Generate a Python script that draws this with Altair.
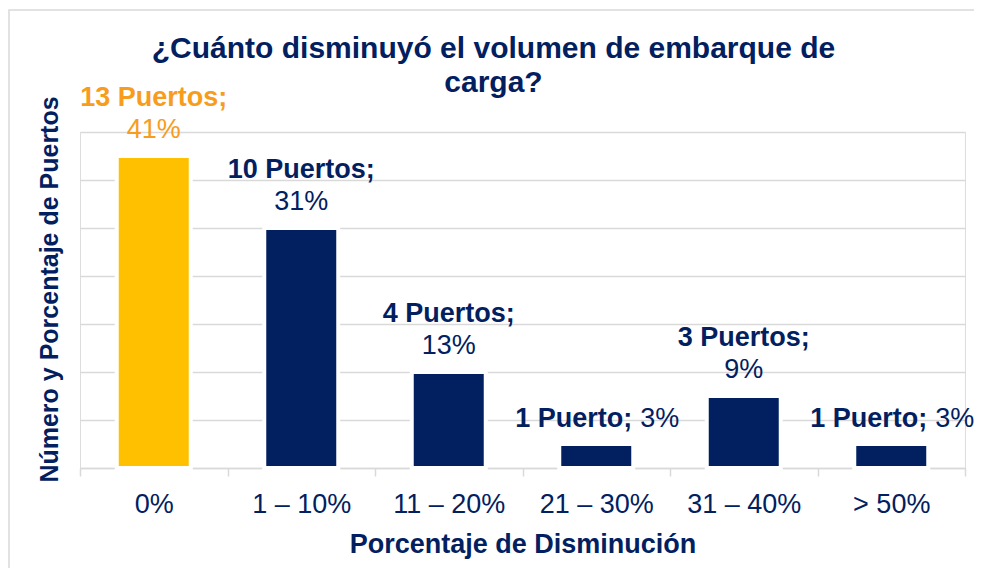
import altair as alt
import pandas as pd

categories = ["0%", "1 – 10%", "11 – 20%", "21 – 30%", "31 – 40%", "> 50%"]
puertos = [13, 10, 4, 1, 3, 1]
porcentajes = [41, 31, 13, 3, 9, 3]
y_ticks = [0, 2, 4, 6, 8, 10, 12, 14]

title_lines = ["¿Cuánto disminuyó el volumen de embarque de", "carga?"]
x_title = "Porcentaje de Disminución"
y_title = "Número y Porcentaje de Puertos"

NAVY = "#022060"
GOLD = "#FFC000"
ORANGE = "#F79C1C"
GRID = "#D9D9D9"
FONT = "Liberation Sans"

df = pd.DataFrame({
    "cat": categories,
    "n": puertos,
    "pct": porcentajes,
})
df["bold"] = [f"{n} Puerto{'s' if n != 1 else ''};" for n in puertos]
df["pct_txt"] = [f"{p}%" for p in porcentajes]

x_enc = alt.X(
    "cat:N",
    sort=categories,
    scale=alt.Scale(paddingInner=0, paddingOuter=0),
    axis=alt.Axis(
        title=x_title,
        labelAngle=0,
        labelFont=FONT,
        labelFontSize=27,
        labelColor=NAVY,
        labelBaseline="alphabetic",
        labelPadding=36,
        tickBand="extent",
        tickSize=8,
        tickColor=GRID,
        tickWidth=1.5,
        domainColor=GRID,
        domainWidth=1.5,
        grid=False,
        titleFont=FONT,
        titleFontSize=27,
        titleFontWeight="bold",
        titleColor=NAVY,
        titleBaseline="alphabetic",
        titleY=84,
    ),
)
y_enc = alt.Y(
    "n:Q",
    scale=alt.Scale(domain=[0, 14], nice=False),
    axis=alt.Axis(
        title=y_title,
        values=y_ticks,
        labels=False,
        ticks=False,
        domain=False,
        grid=True,
        gridColor=GRID,
        gridWidth=1.5,
        titleFont=FONT,
        titleFontSize=25,
        titleFontWeight="bold",
        titleColor=NAVY,
        titleAngle=-90,
        titleAlign="center",
        titleBaseline="alphabetic",
        titleX=-23,
        titleY=157,
    ),
)

base = alt.Chart(df)
is_first = alt.datum.cat == categories[0]

frame = alt.Chart(pd.DataFrame({"a": [0]})).mark_rect(
    fillOpacity=0, stroke=GRID, strokeWidth=1.5
).encode(
    x=alt.value(-71), x2=alt.value(1000), y=alt.value(-122), y2=alt.value(600)
)

bars = base.mark_bar(size=74, stroke="white", strokeWidth=4).encode(
    x=x_enc,
    y=y_enc,
    color=alt.condition(is_first, alt.value(GOLD), alt.value(NAVY)),
)

text_color = alt.condition(is_first, alt.value(ORANGE), alt.value(NAVY))

two = base.transform_filter("datum.n > 1")
one = base.transform_filter("datum.n <= 1")

bold_two = two.mark_text(
    font=FONT, fontSize=27, fontWeight="bold", baseline="alphabetic", dy=-50
).encode(x=alt.X("cat:N", sort=categories), y="n:Q", text="bold:N", color=text_color)
pct_two = two.mark_text(
    font=FONT, fontSize=27, baseline="alphabetic", dy=-18
).encode(x=alt.X("cat:N", sort=categories), y="n:Q", text="pct_txt:N", color=text_color)

bold_one = one.mark_text(
    font=FONT, fontSize=27, fontWeight="bold", baseline="alphabetic", align="right", dx=36, dy=-17
).encode(x=alt.X("cat:N", sort=categories), y="n:Q", text="bold:N", color=text_color)
pct_one = one.mark_text(
    font=FONT, fontSize=27, baseline="alphabetic", align="left", dx=44, dy=-17
).encode(x=alt.X("cat:N", sort=categories), y="n:Q", text="pct_txt:N", color=text_color)

chart = alt.layer(frame, bars, bold_two, pct_two, bold_one, pct_one).properties(
    width=885,
    height=336,
    autosize=alt.AutoSizeParams(type="none"),
    padding={"left": 72, "top": 124, "right": 9, "bottom": 100},
    title=alt.TitleParams(
        text=title_lines,
        font=FONT,
        fontSize=30,
        fontWeight="bold",
        color=NAVY,
        anchor="middle",
        dx=-29,
        dy=93,
        lineHeight=34,
    ),
).configure_view(stroke=None).configure(background="white")

chart.save("out.html", embed_options={"renderer": "svg", "actions": False})
